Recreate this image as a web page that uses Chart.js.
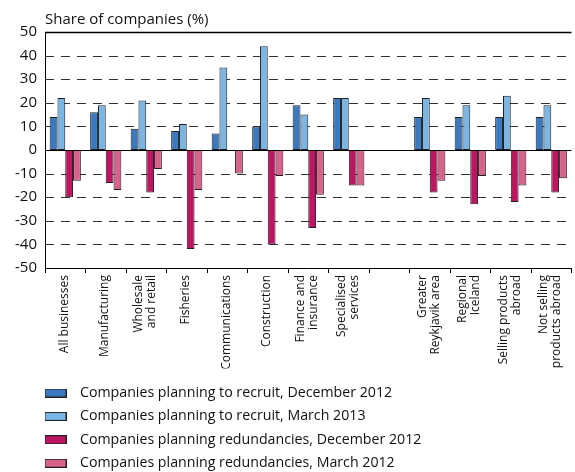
<!DOCTYPE html>
<html><head><meta charset="utf-8">
<script src="https://cdn.jsdelivr.net/npm/chart.js@4/dist/chart.umd.min.js"></script>
<style>html,body{margin:0;padding:0;overflow:hidden;background:#fff}canvas{display:block}</style>
</head><body>
<canvas id="c" width="580" height="472"></canvas>
<script>
const categories = [
  'All businesses', 'Manufacturing', ['Wholesale', 'and retail'], 'Fisheries',
  'Communications', 'Construction', ['Finance and', 'insurance'], ['Specialised', 'services'],
  '', ['Greater', 'Reykjavik area'], ['Regional', 'Iceland'], ['Selling products', 'abroad'],
  ['Not selling', 'products abroad']
];
const seriesNames = [
  'Companies planning to recruit, December 2012',
  'Companies planning to recruit, March 2013',
  'Companies planning redundancies, December 2012',
  'Companies planning redundancies, March 2012'
];
const recruitDec2012 = [14, 16, 9, 8, 7, 10, 19, 22, null, 14, 14, 14, 14];
const recruitMar2013 = [22, 19, 21, 11, 35, 44, 15, 22, null, 22, 19, 23, 19];
const redundDec2012 = [-20, -14, -18, -42, null, -40, -33, -15, null, -18, -23, -22, -18];
const redundMar2012 = [-13, -17, -8, -17, -10, -11, -19, -15, null, -13, -11, -15, -12];
const yTicks = [50, 40, 30, 20, 10, 0, -10, -20, -30, -40, -50];
const yTitle = 'Share of companies (%)';

const colors = ['#3a78bf', '#7ab5e3', '#bd1560', '#d8628c'];
const FONT = "'Open Sans', 'DejaVu Sans', sans-serif";

function swatch(color) {
  const c = document.createElement('canvas');
  c.width = 22; c.height = 9;
  const g = c.getContext('2d');
  g.fillStyle = color; g.fillRect(0, 0, 22, 9);
  g.strokeStyle = '#222'; g.lineWidth = 1; g.strokeRect(0.5, 0.5, 21, 8);
  return c;
}
const swatches = colors.map(swatch);

const refPlugin = {
  id: 'refPlugin',
  beforeDraw(chart) {
    const lg = chart.legend;
    if (lg) { lg.left = 28.9; lg.top = 376.7; }
    const xs = chart.scales.x;
    const items = xs.getLabelItems();
    const lh = xs.options.ticks.font.size * xs.options.ticks.font.lineHeight;
    items.forEach(it => {
      if (!it._shifted && Array.isArray(it.label) && it.label.length > 1) {
        it.options.translation[0] -= (it.label.length - 1) * lh / 2;
        it._shifted = true;
      }
    });
  },
  beforeDatasetsDraw(chart) {
    const {ctx, chartArea: a} = chart;
    const ys = chart.scales.y;
    ctx.save();
    ys.ticks.forEach(t => {
      const y = Math.round(ys.getPixelForValue(t.value)) + 0.5;
      if (t.value === 0 || t.value === -50) return;
      ctx.beginPath();
      if (t.value === 50) {
        ctx.setLineDash([]); ctx.strokeStyle = '#000'; ctx.lineWidth = 1.5;
      } else {
        ctx.setLineDash([9, 7]); ctx.strokeStyle = '#333'; ctx.lineWidth = 1.2;
      }
      ctx.moveTo(a.left, y); ctx.lineTo(a.right, y); ctx.stroke();
    });
    ctx.restore();
  },
  afterDatasetsDraw(chart) {
    const {ctx, chartArea: a} = chart;
    const y = Math.round(chart.scales.y.getPixelForValue(0)) + 0.5;
    ctx.save();
    ctx.strokeStyle = '#000'; ctx.lineWidth = 1.2;
    ctx.beginPath(); ctx.moveTo(a.left, y); ctx.lineTo(a.right, y); ctx.stroke();
    ctx.restore();
  }
};

const seriesData = [recruitDec2012, recruitMar2013, redundDec2012, redundMar2012];

new Chart(document.getElementById('c'), {
  type: 'bar',
  data: {
    labels: categories,
    datasets: seriesData.map((d, i) => ({
      label: seriesNames[i],
      data: d,
      backgroundColor: colors[i],
      borderColor: '#1e1e1e',
      borderWidth: 1,
      borderSkipped: false,
      categoryPercentage: 0.77,
      barPercentage: 1
    }))
  },
  options: {
    responsive: false,
    animation: false,
    devicePixelRatio: 1,
    layout: {padding: {left: 0, right: 3, top: 0, bottom: 0}},
    scales: {
      x: {
        offset: true,
        grid: {display: true, drawOnChartArea: false, drawTicks: true, tickLength: 5, offset: true, color: '#000', tickColor: '#000'},
        border: {display: true, color: '#000', width: 1},
        ticks: {
          autoSkip: false, minRotation: 90, maxRotation: 90, padding: 2, labelOffset: -1,
          color: '#111', font: {family: FONT, size: 12, lineHeight: 1.1}
        },
        afterFit(s) { s.height = 100.4; }
      },
      y: {
        min: -50, max: 50,
        afterBuildTicks(s) { s.ticks = yTicks.map(v => ({value: v})); },
        grid: {display: false, drawTicks: false},
        border: {display: true, color: '#000', width: 1},
        ticks: {color: '#111', padding: 8, font: {family: FONT, size: 15}},
        afterFit(s) { s.width = 45; }
      }
    },
    plugins: {
      tooltip: {enabled: false},
      title: {
        display: true, text: yTitle, align: 'start', fullSize: false,
        color: '#111', font: {family: FONT, size: 15, weight: 'normal', lineHeight: 1.2},
        padding: {top: 11, bottom: 3}
      },
      legend: {
        display: true, position: 'bottom', align: 'start',
        labels: {
          usePointStyle: true, pointStyleWidth: 34.8, boxHeight: 9,
          padding: 9.2, color: '#111',
          font: {family: FONT, size: 14.2},
          generateLabels(chart) {
            const items = Chart.defaults.plugins.legend.labels.generateLabels(chart);
            items.forEach((it, i) => { it.pointStyle = swatches[i]; });
            return items;
          }
        }
      }
    }
  },
  plugins: [refPlugin]
});
</script>
</body></html>
